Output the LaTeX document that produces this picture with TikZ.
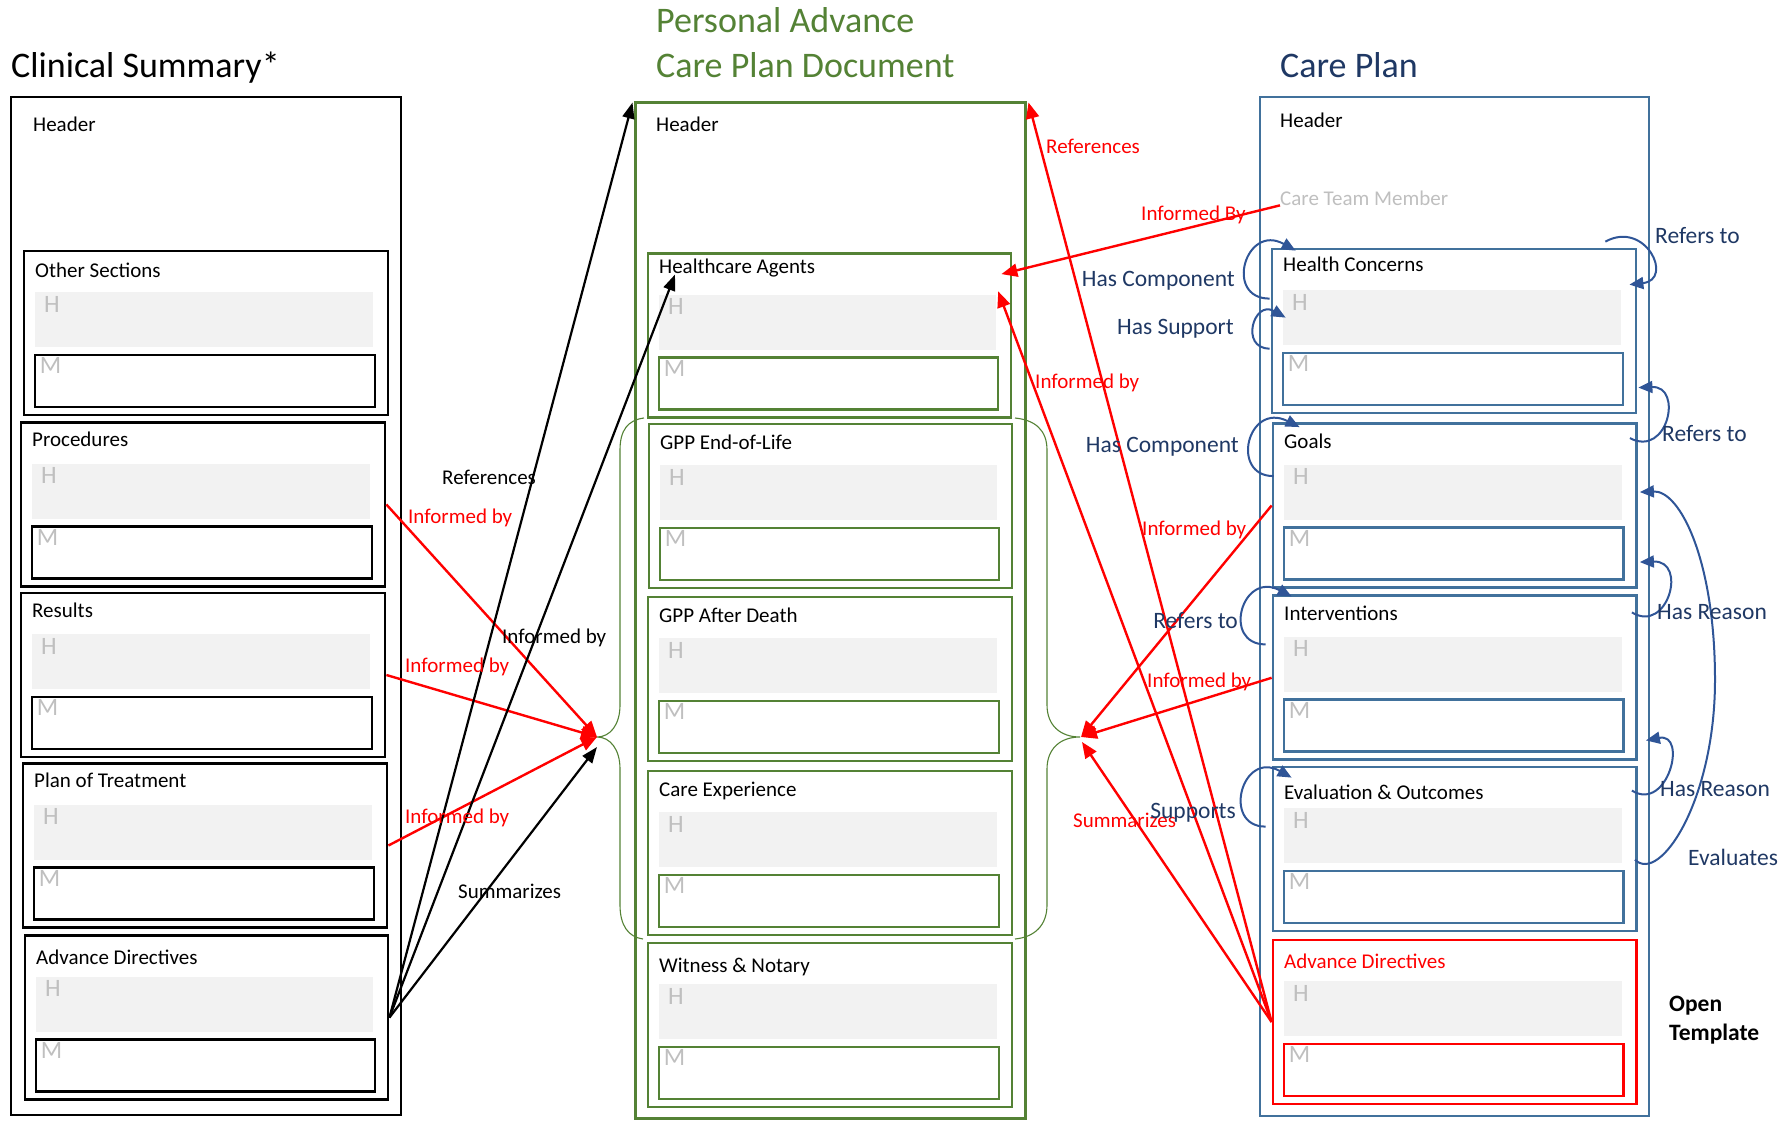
\documentclass[tikz,border=0pt]{standalone}
\usepackage{fontspec}
\setmainfont{Carlito}
\usepackage{tikz}
\usetikzlibrary{arrows.meta, fit, calc}
\definecolor{docgreen}{HTML}{548235}
\definecolor{boxblue}{HTML}{41719C}
\definecolor{loopblue}{HTML}{2F5597}
\definecolor{navy}{HTML}{1F3864}
\definecolor{hmfill}{HTML}{F2F2F2}
\definecolor{hmtext}{HTML}{BFBFBF}
\tikzset{
  colbox/.style={draw, line width=2.6pt, inner sep=0pt},
  secbox/.style={draw, line width=2.8pt, inner sep=0pt},
  hmbox/.style={fill=hmfill, inner sep=0pt},
  mbox/.style={draw, line width=2.8pt, inner sep=0pt},
  hm/.style={font=\fontsize{25}{30}\selectfont, text=hmtext, inner sep=0pt},
  lbl/.style={font=\fontsize{21}{25}\selectfont, inner sep=0pt},
  relblue/.style={font=\fontsize{23.5}{28}\selectfont, text=navy, inner sep=0pt},
  coltitle/.style={font=\fontsize{36}{43}\selectfont, inner sep=0pt, anchor=base west},
  redarr/.style={draw=red, line width=2.4pt, -{Triangle[length=16pt,width=13pt]}},
  blkarr/.style={draw=black, line width=2.2pt, -{Triangle[length=16pt,width=12pt]}},
  looparr/.style={draw=loopblue, line width=2pt, -{Triangle[length=14pt,width=12pt]}},
  brace/.style={draw=docgreen, line width=1.1pt},
}
\begin{document}
\begin{tikzpicture}[x=1pt, y=-1pt]
\useasboundingbox (0,0) rectangle (1783,1120);
% name, colour, x1, y1, x2, title, title colour, title baseline
\newcommand{\drawsection}[8]{%
  \node[secbox, draw=#2, fit={(#3,#4) (#5,#4+164)}] (#1) {};
  \node[hmbox, fit={(#3+11,#4+41) (#5-15,#4+96)}] (#1-h) {};
  \node[mbox, draw=#2, fit={(#3+11,#4+104) (#5-13,#4+156)}] (#1-m) {};
  \node[lbl, text=#7, anchor=base west] (#1-t) at (#3+11,#4+#8) {#6};
  \node[hm, anchor=north west] (#1-hl) at ([shift={(9,4)}]#1-h.north west) {H};
  \node[hm, anchor=north west] (#1-ml) at ([shift={(6,4)}]#1-m.north west) {M};
}
%% titles
\node[coltitle] (clintitle) at (11,77) {Clinical Summary*};
\node[coltitle, text=docgreen] (pacptitle) at (656,32) {Personal Advance};
\node[coltitle, text=docgreen] (pacptitle2) at (656,77) {Care Plan Document};
\node[coltitle, text=navy] (cplantitle) at (1280,77) {Care Plan};
%% clinical summary
\begin{scope}
  \node[colbox, draw=black, fit={(11,97) (401,1115)}] (clin) {};
  \node[lbl, anchor=base west] (clinhead) at (33,131) {Header};
  \drawsection{other}{black}{24}{251}{388}{Other Sections}{black}{26}
  \drawsection{proc}{black}{21}{422.5}{385}{Procedures}{black}{23.5}
  \drawsection{res}{black}{21}{593}{385}{Results}{black}{24}
  \drawsection{plan}{black}{23}{763.5}{387}{Plan of Treatment}{black}{23.5}
  \drawsection{ladv}{black}{25}{935.6}{388}{Advance Directives}{black}{29}
\end{scope}
%% personal advance care plan
\begin{scope}
  \node[colbox, draw=docgreen, line width=3pt, fit={(635,102) (1025,1118)}] (pacp) {};
  \node[lbl, anchor=base west] (pacphead) at (656,131) {Header};
  \drawsection{ha}{docgreen}{648}{253.5}{1011}{Healthcare Agents}{black}{20}
  \drawsection{eol}{docgreen}{649}{424}{1012}{GPP End-of-Life}{black}{25}
  \drawsection{death}{docgreen}{648}{597}{1012}{GPP After Death}{black}{25.5}
  \drawsection{cexp}{docgreen}{648}{771}{1012}{Care Experience}{black}{25}
  \drawsection{wit}{docgreen}{648}{943}{1012}{Witness \& Notary}{black}{29}
  \draw[brace] (644,418) .. controls (628,420) and (620,430) .. (620,450) -- (620,705)
    .. controls (620,725) and (610,737) .. (597,737)
    .. controls (610,737) and (620,749) .. (620,769) -- (620,905)
    .. controls (620,925) and (628,937) .. (643,939);
  \draw[brace] (1015,418) .. controls (1035,420) and (1047,430) .. (1047,450) -- (1047,705)
    .. controls (1047,725) and (1060,737) .. (1080,737)
    .. controls (1060,737) and (1047,749) .. (1047,769) -- (1047,905)
    .. controls (1047,925) and (1035,937) .. (1015,939);
  \coordinate (lbtip) at (597,737);
  \coordinate (rbtip) at (1081,737);
\end{scope}
%% care plan
\begin{scope}
  \node[colbox, draw=boxblue, fit={(1260,97) (1649,1116)}] (cplan) {};
  \node[lbl, anchor=base west] (cplanhead) at (1280,127) {Header};
  \node[lbl, text=hmtext, anchor=base west] (ctm) at (1280,205) {Care Team Member};
  \drawsection{hc}{boxblue}{1272}{249}{1636}{Health Concerns}{black}{22}
  \drawsection{goals}{boxblue}{1273}{423.5}{1636.5}{Goals}{black}{24.5}
  \drawsection{interv}{boxblue}{1273}{595.8}{1636.5}{Interventions}{black}{25}
  \drawsection{eval}{boxblue}{1273}{767}{1636.5}{Evaluation \& Outcomes}{black}{32}
  \drawsection{radv}{red}{1273}{940}{1636.5}{Advance Directives}{red}{28.5}
  \node[font=\bfseries\fontsize{23.5}{29}\selectfont, inner sep=0pt, anchor=base west] (opentpl) at (1669,1011) {Open};
  \node[font=\bfseries\fontsize{23.5}{29}\selectfont, inner sep=0pt, anchor=base west] (opentpl2) at (1669,1040) {Template};
\end{scope}
%% self relations on the care plan
\draw[looparr] ([shift={(-1,51)}]hc.north west) .. controls +(-46,0) and +(-50,-28) .. ([shift={(25,3)}]hc.north west);
\draw[looparr] ([shift={(-1,101)}]hc.north west) .. controls +(-30,0) and +(-32,-18) .. ([shift={(15,70)}]hc.north west);
\draw[looparr] ([shift={(2,54)}]goals.north west) .. controls +(-44,0) and +(-52,-26) .. ([shift={(28,5)}]goals.north west);
\draw[looparr] ([shift={(-6,50)}]interv.north west) .. controls +(-44,0) and +(-50,-26) .. ([shift={(20,2)}]interv.north west);
\draw[looparr] ([shift={(-6,61)}]eval.north west) .. controls +(-44,0) and +(-50,-28) .. ([shift={(20,12)}]eval.north west);
\draw[looparr] ([shift={(-32,-6)}]hc.north east) .. controls +(40,-22) and +(45,-5) .. ([shift={(-8,37)}]hc.north east);
\draw[looparr] ([shift={(-8,16)}]goals.north east) .. controls +(38,20) and +(45,-2) .. ([shift={(1,140)}]hc.north east);
\draw[looparr] ([shift={(-3,94)}]eval.north east) .. controls +(25,25) and +(0,120) .. (1715,680)
  .. controls +(0,-120) and +(40,-2) .. ([shift={(2,70)}]goals.north east);
\draw[looparr] ([shift={(-6,18)}]interv.north east) .. controls +(36,22) and +(48,-2) .. ([shift={(2,140)}]goals.north east);
\draw[looparr] ([shift={(-6,25)}]eval.north east) .. controls +(36,22) and +(42,-8) .. ([shift={(8,146)}]interv.north east);
%% connectors
\draw[redarr] (proc.east) -- (lbtip);
\draw[redarr] (res.east) -- (lbtip);
\draw[redarr] (plan.east) -- (lbtip);
\draw[blkarr] (ladv.east) -- ([shift={(-1,2)}]pacp.north west);
\draw[blkarr] (ladv.east) -- ([shift={(16,1)}]ha-t.base west);
\draw[blkarr] (ladv.east) -- ([shift={(0,10)}]lbtip);
\draw[redarr] (radv.west) -- ([shift={(2,2)}]pacp.north east);
\draw[redarr] (radv.west) -- ([shift={(2,-3)}]ha-h.north east);
\draw[redarr] (radv.west) -- ([shift={(1,5)}]rbtip);
\draw[redarr] (ctm.south west) -- ([shift={(-11,22)}]ha.north east);
\draw[redarr] (goals.west) -- (rbtip);
\draw[redarr] (interv.west) -- (rbtip);
%% labels
\node[lbl, anchor=base west] (lref) at (442,484) {References};
\node[lbl, text=red, anchor=base west] (linf1) at (408,523) {Informed by};
\node[lbl, anchor=base west] (linf2) at (502,643) {Informed by};
\node[lbl, text=red, anchor=base west] (linf3) at (405,672) {Informed by};
\node[lbl, text=red, anchor=base west] (linf4) at (405,823) {Informed by};
\node[lbl, anchor=base west] (lsum) at (458,898) {Summarizes};
\node[lbl, text=red, anchor=base west] (rref) at (1046,153) {References};
\node[lbl, text=red, anchor=base west] (rinf1) at (1141,220) {Informed By};
\node[lbl, text=red, anchor=base west] (rinf2) at (1035,388) {Informed by};
\node[lbl, text=red, anchor=base west] (rinf3) at (1142,535) {Informed by};
\node[lbl, text=red, anchor=base west] (rinf4) at (1147,687) {Informed by};
\node[lbl, text=red, anchor=base west] (rsum) at (1073,827) {Summarizes};
\node[relblue, anchor=base east] (hascomp1) at (1235,286) {Has Component};
\node[relblue, anchor=base east] (hassup) at (1234,334) {Has Support};
\node[relblue, anchor=base east] (hascomp2) at (1239,452) {Has Component};
\node[relblue, anchor=base east] (refl) at (1238,628) {Refers to};
\node[relblue, anchor=base east] (supp) at (1236,818) {Supports};
\node[relblue, anchor=base west] (refr1) at (1655,243) {Refers to};
\node[relblue, anchor=base west] (refr2) at (1662,441) {Refers to};
\node[relblue, anchor=base west] (reason1) at (1657,619) {Has Reason};
\node[relblue, anchor=base west] (reason2) at (1660,796) {Has Reason};
\node[relblue, anchor=base west] (evals) at (1688,865) {Evaluates};
\end{tikzpicture}
\end{document}
